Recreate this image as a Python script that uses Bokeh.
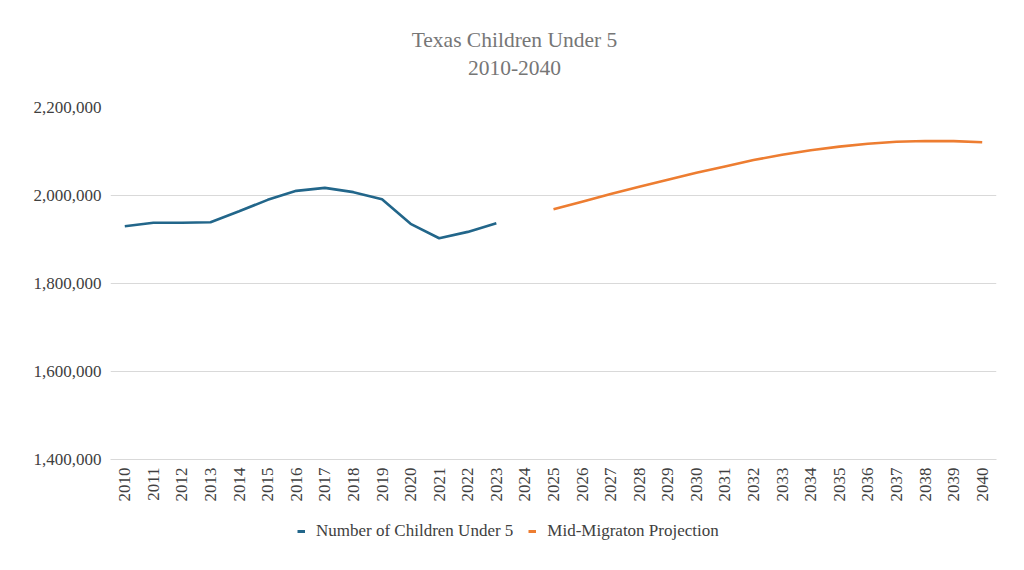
import math
from bokeh.plotting import figure
from bokeh.layouts import column
from bokeh.models import (FactorRange, Range1d, FixedTicker, NumeralTickFormatter,
                          Legend, LegendItem, Label)
from bokeh.embed import file_html
from bokeh.resources import INLINE

# ---- data ----
years = [str(y) for y in range(2010, 2041)]

hist_years = [str(y) for y in range(2010, 2024)]
hist_values = [1930200, 1937900, 1938000, 1939300, 1964300, 1990100, 2010600,
               2017400, 2007600, 1991700, 1935600, 1902900, 1917300, 1937000]

proj_years = [str(y) for y in range(2025, 2041)]
proj_values = [1968500, 1986000, 2003500, 2020000, 2036000, 2051500, 2066000,
               2080500, 2092500, 2103000, 2111000, 2117500, 2122000, 2124000,
               2123500, 2121000]

y_ticks = [1400000, 1600000, 1800000, 2000000, 2200000]

title_line1 = "Texas Children Under 5"
title_line2 = "2010-2040"
hist_label = "Number of Children Under 5"
proj_label = "Mid-Migraton Projection"

FONT = "Liberation Serif"
LABEL_COLOR = "#404040"
TITLE_COLOR = "#767676"
GRID_COLOR = "#d9d9d9"
BLUE = "#22668A"
ORANGE = "#ED7D31"
W = 1008
NAN = float("nan")


def blank(height):
    f = figure(width=W, height=height, x_range=Range1d(0, 1), y_range=Range1d(0, 1),
               x_axis_type=None, y_axis_type=None, output_backend="svg",
               toolbar_location=None, min_border=0)
    f.outline_line_color = None
    f.xgrid.visible = False
    f.ygrid.visible = False
    return f


# ---- title block (frames are aligned with the main plot's frame) ----
top = blank(90)
for txt, ypos in ((title_line1, 51), (title_line2, 23)):
    top.add_layout(Label(x=404, y=ypos, x_units="screen", y_units="screen", text=txt,
                         text_align="center", text_baseline="middle",
                         text_font=FONT, text_font_size="21.5px", text_color=TITLE_COLOR))

# ---- main plot ----
p = figure(width=W, height=415, x_range=FactorRange(*years),
           y_range=Range1d(y_ticks[0], y_ticks[-1]),
           output_backend="svg", toolbar_location=None,
           min_border_left=110, min_border_right=12,
           min_border_top=17, min_border_bottom=46)
p.outline_line_color = None

p.line(x=hist_years, y=hist_values, line_color=BLUE, line_width=2.6)
p.line(x=proj_years, y=proj_values, line_color=ORANGE, line_width=2.6)

p.yaxis.ticker = FixedTicker(ticks=y_ticks)
p.yaxis.formatter = NumeralTickFormatter(format="0,0")
p.yaxis.axis_line_color = None
p.yaxis.major_tick_line_color = None
p.yaxis.minor_tick_line_color = None
p.yaxis.major_tick_out = 0
p.yaxis.major_tick_in = 0
p.yaxis.major_label_standoff = 9
p.yaxis.major_label_text_font = FONT
p.yaxis.major_label_text_font_size = "17px"
p.yaxis.major_label_text_color = LABEL_COLOR

p.xaxis.axis_line_color = GRID_COLOR
p.xaxis.major_tick_line_color = None
p.xaxis.minor_tick_line_color = None
p.xaxis.major_tick_out = 0
p.xaxis.major_tick_in = 0
p.xaxis.major_label_orientation = math.pi / 2
p.xaxis.major_label_standoff = 8
p.xaxis.major_label_text_font = FONT
p.xaxis.major_label_text_font_size = "17px"
p.xaxis.major_label_text_color = LABEL_COLOR

p.xgrid.grid_line_color = None
p.ygrid.grid_line_color = GRID_COLOR
p.ygrid.grid_line_width = 1

# ---- legend block ----
leg = blank(55)
g1 = leg.line(x=[NAN], y=[NAN], line_color=BLUE, line_width=3)
g2 = leg.line(x=[NAN], y=[NAN], line_color=ORANGE, line_width=3)
legend = Legend(items=[LegendItem(label=hist_label, renderers=[g1]),
                       LegendItem(label=proj_label, renderers=[g2])],
                orientation="horizontal", location=(187, 19),
                label_text_font=FONT, label_text_font_size="17px",
                label_text_color=LABEL_COLOR, glyph_width=8, glyph_height=20,
                label_standoff=11, spacing=15, padding=0, margin=0,
                border_line_color=None, background_fill_alpha=0)
leg.add_layout(legend, "center")

layout = column(top, p, leg, spacing=0)
open("out.html", "w").write(file_html(layout, INLINE))
